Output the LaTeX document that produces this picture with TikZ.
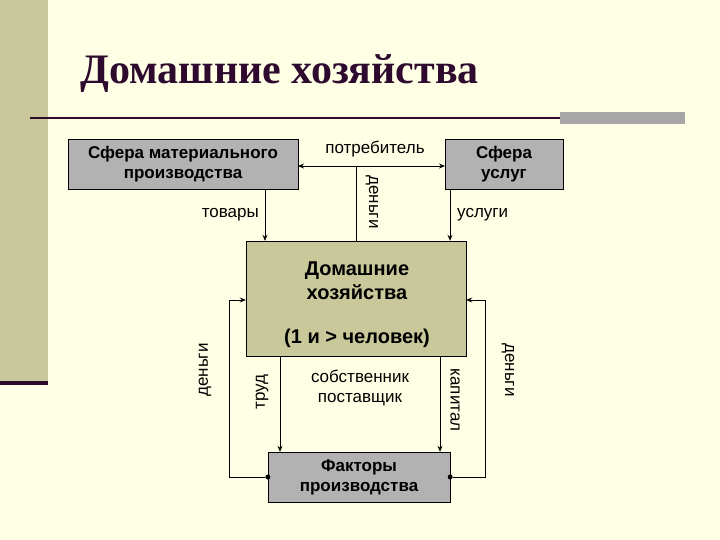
\documentclass[tikz,border=0pt]{standalone}
\usepackage{fontspec}
\setmainfont{Liberation Sans}
\newfontfamily\titlefont{Liberation Serif}
\usetikzlibrary{arrows.meta}
\definecolor{bg}{HTML}{FFFFE6}
\definecolor{strip}{HTML}{C8C89A}
\definecolor{dark}{HTML}{2E0A2E}
\definecolor{boxgray}{HTML}{B2B2B2}
\definecolor{olive}{HTML}{C8C89A}
\tikzset{
  gbox/.style={draw=black, fill=boxgray, align=center, font=\fontsize{17}{20}\selectfont\bfseries, inner sep=0pt},
  lbl/.style={font=\fontsize{17}{20}\selectfont, align=center, inner sep=1pt},
  arr/.style={-{Stealth[length=6pt,width=5pt]}, line width=0.8pt},
  ln/.style={line width=0.8pt},
  dotc/.style={circle, fill=black, inner sep=0pt, minimum size=5pt}
}
\begin{document}
\begin{tikzpicture}[x=1pt,y=-1pt]
\useasboundingbox (0,0) rectangle (720,540);
\fill[bg] (0,0) rectangle (720,540);
\fill[strip] (0,0) rectangle (48,382);
\fill[dark] (0,381) rectangle (48,385);
\draw[dark, line width=2pt] (30,118) -- (560,118);
\fill[gray!70] (560,112) rectangle (685,124);
\node[anchor=base west, text=dark, font=\titlefont\fontsize{42}{46}\selectfont\bfseries, inner sep=0pt] (title) at (80,84) {Домашние хозяйства};

\node[gbox, minimum width=230pt, minimum height=50pt] (smp) at (183,164) {Сфера материального\\производства};
\node[gbox, minimum width=118pt, minimum height=50pt] (su) at (504,164) {Сфера\\услуг};
\node[draw=black, fill=olive, minimum width=220pt, minimum height=115pt, inner sep=0pt] (dh) at (356,298.5) {};
\node[font=\fontsize{20}{24}\selectfont\bfseries, align=center] (dht) at (357,281) {Домашние\\хозяйства};
\node[font=\fontsize{20}{24}\selectfont\bfseries] (dhn) at (357,338) {(1 и > человек)};
\node[gbox, fill=gray!60, minimum width=182pt, minimum height=50pt] (fp) at (359,477) {Факторы\\производства};

% top
\coordinate (pl) at (298,166);
\coordinate (pr) at (445,166);
\draw[{Stealth[length=6pt,width=5pt]}-{Stealth[length=6pt,width=5pt]}, line width=0.8pt] (pl) -- (pr);
\node[lbl] (potr) at (375,149) {потребитель};
\coordinate (pm) at (356,166);
\draw[ln] (dh.north -| pm) -- (pm);
\node[lbl, rotate=-90] (den1) at (372,202) {деньги};

\draw[arr] (smp.south -| 265,0) -- (dh.north -| 265,0);
\node[lbl, anchor=east] (tov) at (260,215) {товары};
\draw[arr] (su.south -| 450,0) -- (dh.north -| 450,0);
\node[lbl, anchor=west] (usl) at (456,215) {услуги};

% bottom
\draw[arr] (dh.south -| 280,0) -- (fp.north -| 280,0);
\node[lbl, rotate=90] (trud) at (262,392) {труд};
\draw[arr] (dh.south -| 440,0) -- (fp.north -| 440,0);
\node[lbl, rotate=-90] (kap) at (455,400) {капитал};
\node[lbl] (sob) at (360,388) {собственник\\поставщик};

\node[dotc] (dl) at (fp.west) {};
\node[dotc] (dr) at (fp.east) {};
\draw[arr] (dl) -- (229,477) -- (229,300) -- (dh.west |- 0,300);
\draw[arr] (dr) -- (485,477) -- (485,300) -- (dh.east |- 0,300);
\node[lbl, rotate=90] (den2) at (205,370) {деньги};
\node[lbl, rotate=-90] (den3) at (508,370) {деньги};
\end{tikzpicture}
\end{document}
